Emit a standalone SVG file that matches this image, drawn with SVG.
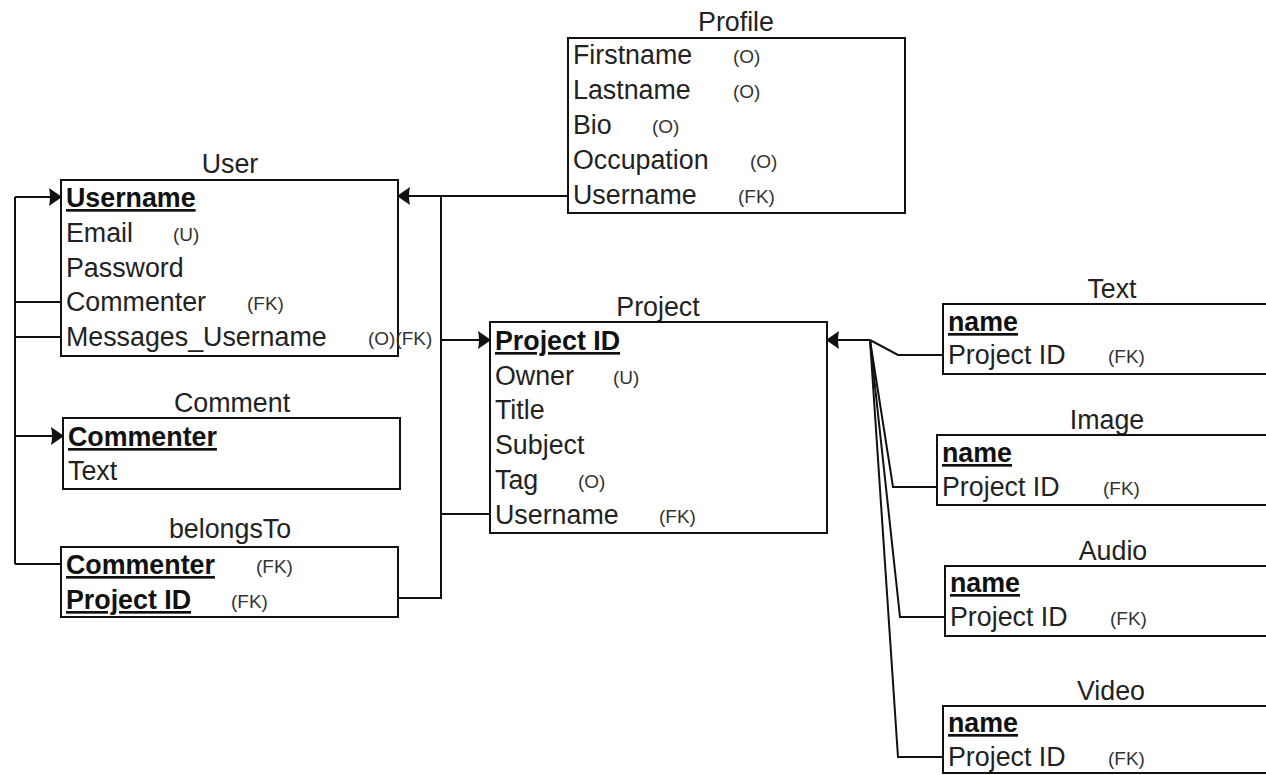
<svg xmlns="http://www.w3.org/2000/svg" width="1266" height="775" viewBox="0 0 1266 775">
<style>
.box{fill:#fff;stroke:#111;stroke-width:2}
.t{font-family:"Liberation Sans",Arial,sans-serif;font-size:26.8px;fill:#222}
.title{text-anchor:middle}
.k{font-weight:bold;text-decoration:underline;fill:#111}
.a{font-family:"Liberation Sans",Arial,sans-serif;font-size:19px;fill:#333}
.c{fill:none;stroke:#111;stroke-width:2}
</style>
<defs>
<marker id="arr" viewBox="0 0 13 18" refX="12" refY="9" markerWidth="13" markerHeight="18" markerUnits="userSpaceOnUse" orient="auto">
<path d="M0,0 L13,9 L0,18 Q2,9 0,0 Z" fill="#111"/>
</marker>
</defs>
<rect width="1266" height="775" fill="#fff"/>

<g id="connectors">
<path class="c" d="M15,197 V564"/>
<path class="c" d="M15,197 H61" marker-end="url(#arr)"/>
<path class="c" d="M15,302 H61"/>
<path class="c" d="M15,337 H61"/>
<path class="c" d="M15,436 H63" marker-end="url(#arr)"/>
<path class="c" d="M15,564 H61"/>
<path class="c" d="M568,196 H398" marker-end="url(#arr)"/>
<path class="c" d="M441,196 V598 H398"/>
<path class="c" d="M441,340 H490" marker-end="url(#arr)"/>
<path class="c" d="M441,514 H490"/>
<path class="c" d="M870,340 H827" marker-end="url(#arr)"/>
<path class="c" d="M870,340 L898,355 H943"/>
<path class="c" d="M870,340 L893,487 H937"/>
<path class="c" d="M870,340 L900,617 H945"/>
<path class="c" d="M870,340 L898,757 H943"/>
</g>

<g id="user">
<text class="t title" x="230" y="173">User</text>
<rect class="box" x="61" y="180" width="337" height="176"/>
<text class="t k" x="66" y="207">Username</text>
<text class="t" x="66" y="242">Email</text><text class="a" x="173" y="241">(U)</text>
<text class="t" x="66" y="277">Password</text>
<text class="t" x="66" y="311">Commenter</text><text class="a" x="247" y="310">(FK)</text>
<text class="t" x="66" y="346">Messages_Username</text><text class="a" x="368" y="345">(O)(FK)</text>
</g>

<g id="comment">
<text class="t title" x="232" y="412">Comment</text>
<rect class="box" x="63" y="418" width="337" height="71"/>
<text class="t k" x="68" y="446">Commenter</text>
<text class="t" x="68" y="480">Text</text>
</g>

<g id="belongsTo">
<text class="t title" x="230" y="538">belongsTo</text>
<rect class="box" x="61" y="547" width="337" height="70"/>
<text class="t k" x="66" y="574">Commenter</text><text class="a" x="256" y="573">(FK)</text>
<text class="t k" x="66" y="609">Project ID</text><text class="a" x="231" y="608">(FK)</text>
</g>

<g id="profile">
<text class="t title" x="736" y="31">Profile</text>
<rect class="box" x="568" y="38" width="337" height="175"/>
<text class="t" x="573" y="64">Firstname</text><text class="a" x="733" y="63">(O)</text>
<text class="t" x="573" y="99">Lastname</text><text class="a" x="733" y="98">(O)</text>
<text class="t" x="573" y="134">Bio</text><text class="a" x="652" y="133">(O)</text>
<text class="t" x="573" y="169">Occupation</text><text class="a" x="750" y="168">(O)</text>
<text class="t" x="573" y="204">Username</text><text class="a" x="738" y="203">(FK)</text>
</g>

<g id="project">
<text class="t title" x="658" y="316">Project</text>
<rect class="box" x="490" y="322" width="337" height="211"/>
<text class="t k" x="495" y="350">Project ID</text>
<text class="t" x="495" y="385">Owner</text><text class="a" x="613" y="384">(U)</text>
<text class="t" x="495" y="419">Title</text>
<text class="t" x="495" y="454">Subject</text>
<text class="t" x="495" y="489">Tag</text><text class="a" x="578" y="488">(O)</text>
<text class="t" x="495" y="524">Username</text><text class="a" x="659" y="523">(FK)</text>
</g>

<g id="text">
<text class="t title" x="1112" y="298">Text</text>
<rect class="box" x="943" y="304" width="337" height="70"/>
<text class="t k" x="948" y="331">name</text>
<text class="t" x="948" y="364">Project ID</text><text class="a" x="1108" y="363">(FK)</text>
</g>

<g id="image">
<text class="t title" x="1107" y="429">Image</text>
<rect class="box" x="937" y="435" width="337" height="70"/>
<text class="t k" x="942" y="462">name</text>
<text class="t" x="942" y="496">Project ID</text><text class="a" x="1103" y="495">(FK)</text>
</g>

<g id="audio">
<text class="t title" x="1113" y="560">Audio</text>
<rect class="box" x="945" y="566" width="337" height="70"/>
<text class="t k" x="950" y="592">name</text>
<text class="t" x="950" y="626">Project ID</text><text class="a" x="1110" y="625">(FK)</text>
</g>

<g id="video">
<text class="t title" x="1111" y="700">Video</text>
<rect class="box" x="943" y="706" width="337" height="67"/>
<text class="t k" x="948" y="732">name</text>
<text class="t" x="948" y="766">Project ID</text><text class="a" x="1108" y="765">(FK)</text>
</g>
</svg>
